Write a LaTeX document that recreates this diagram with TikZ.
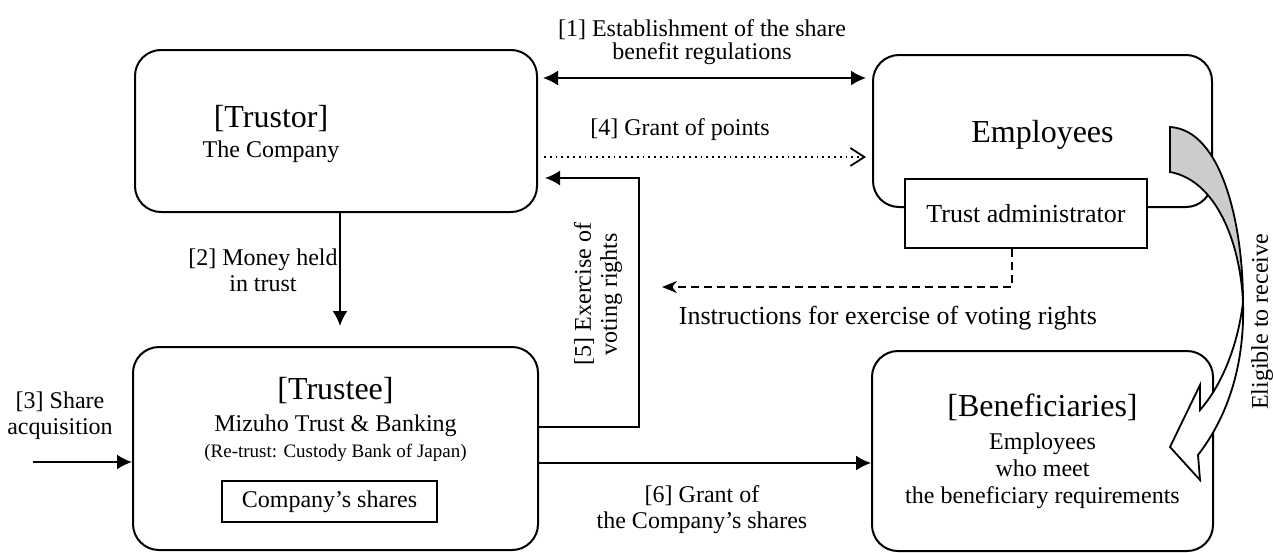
\documentclass[tikz,border=0pt]{standalone}
\usepackage{fontspec}
\setmainfont{Liberation Serif}
\usetikzlibrary{calc,arrows.meta}
\tikzset{
	party/.style={draw,rounded corners=13pt,line width=1pt,inner sep=0pt,align=center},
	inbox/.style={draw,fill=white,line width=0.9pt,inner sep=0pt},
	txt/.style={align=center,font=\fontsize{12}{13}\selectfont},
	bigtip/.tip={Latex[length=7.5pt,width=7.5pt]},
	arr/.style={line width=0.9pt,-{bigtip}}
}

\begin{document}
\begin{tikzpicture}[x=0.5pt,y=-0.5pt]
\useasboundingbox (0,0) rectangle (1273,552);
\node[party,minimum width=201pt,minimum height=81pt] (trustor) at (336,131) {};
\node[party,minimum width=169.5pt,minimum height=76pt,text depth=0pt,font=\fontsize{16}{18}\selectfont] (employees) at (1042.5,131) {Employees};
\node[party,minimum width=202.5pt,minimum height=101.5pt] (trustee) at (335.5,448.5) {};
\node[party,minimum width=170.5pt,minimum height=100pt,font=\fontsize{12}{13.5}\selectfont] (benef) at (1042.5,451) {{\fontsize{16}{17}\selectfont [Beneficiaries]}\\[3pt]Employees\\who meet\\the beneficiary requirements};
\node[inbox,minimum width=121pt,minimum height=34.5pt,font=\fontsize{13}{14}\selectfont] (admin) at (1026,213.5) {Trust administrator};
\node[inbox,minimum width=107.5pt,minimum height=20.5pt,font=\fontsize{12}{13}\selectfont] (shares) at (329.5,501.5) {Company's shares};
\node[txt] (trustortxt) at (271,134) {{\fontsize{16}{17}\selectfont [Trustor]}\\[2pt]The Company};
\node[txt] (trusteetxt) at (335.5,419) {{\fontsize{16}{17}\selectfont [Trustee]}\\[3pt]Mizuho Trust \& Banking\\{\fontsize{9.5}{11}\selectfont (Re-trust: Custody Bank of Japan)}};

\coordinate (acq) at (33,462);
\coordinate (instr) at (662,287);
\coordinate (v5) at ($(trustee.east)+(0,-21.5)$);
\coordinate (v5end) at ($(trustor.east)+(7,47)$);
\coordinate (g6) at ($(trustee.east)+(0,14.5)$);

\draw[arr,{bigtip}-{bigtip}] ($(trustor.east)+(5,-53)$) -- ($(employees.west)+(-6,-53)$);
\draw[line width=0.9pt,dotted,-{Straight Barb[length=7pt,width=9pt]}] ($(trustor.east)+(6,26)$) -- ($(employees.west)+(-6,26)$);
\draw[arr] ([xshift=2pt]trustor.south) -- ([yshift=10pt,xshift=2pt]trustee.north -| trustor.south);
\draw[arr] (acq) -- (acq -| trustee.west);
\draw[arr] (v5) -- ++(100,0) |- (v5end);
\draw[arr] (g6) -- (g6 -| benef.west);
\draw[line width=0.9pt,dash pattern=on 4pt off 2.5pt,-{Stealth[length=7.5pt,width=6pt]}] ($(admin.south)+(-14,0)$) |- (instr);

\node[txt,font=\fontsize{12}{11.5}\selectfont] (l1) at (702,42) {[1] Establishment of the share\\benefit regulations};
\node[txt] (l4) at (680,130) {[4] Grant of points};
\node[txt] (l2) at (263,270) {[2] Money held\\in trust};
\node[txt] (l3) at (60,416) {[3] Share\\acquisition};
\node[txt] (l5) at (598,294) [rotate=90] {[5] Exercise of\\voting rights};
\node[txt] (l6) at (702,510) {[6] Grant of\\the Company's shares};
\node[txt,font=\fontsize{13}{14}\selectfont] (linstr) at (888,318) {Instructions for exercise of voting rights};
\node[txt] (lelig) at (1262,322) [rotate=90] {Eligible to receive};

\draw[line width=0.9pt,fill=gray!40] (1170,127) .. controls (1222,130) and (1243,225) .. (1243,302) .. controls (1240,240) and (1215,180) .. (1170,172) -- cycle;
\draw[line width=0.9pt,fill=white] (1243,302) .. controls (1245,370) and (1225,420) .. (1198,455) -- (1200,480) -- (1170,447) -- (1200,385) -- (1200,410) .. controls (1222,385) and (1238,345) .. (1243,302) -- cycle;
\end{tikzpicture}
\end{document}
